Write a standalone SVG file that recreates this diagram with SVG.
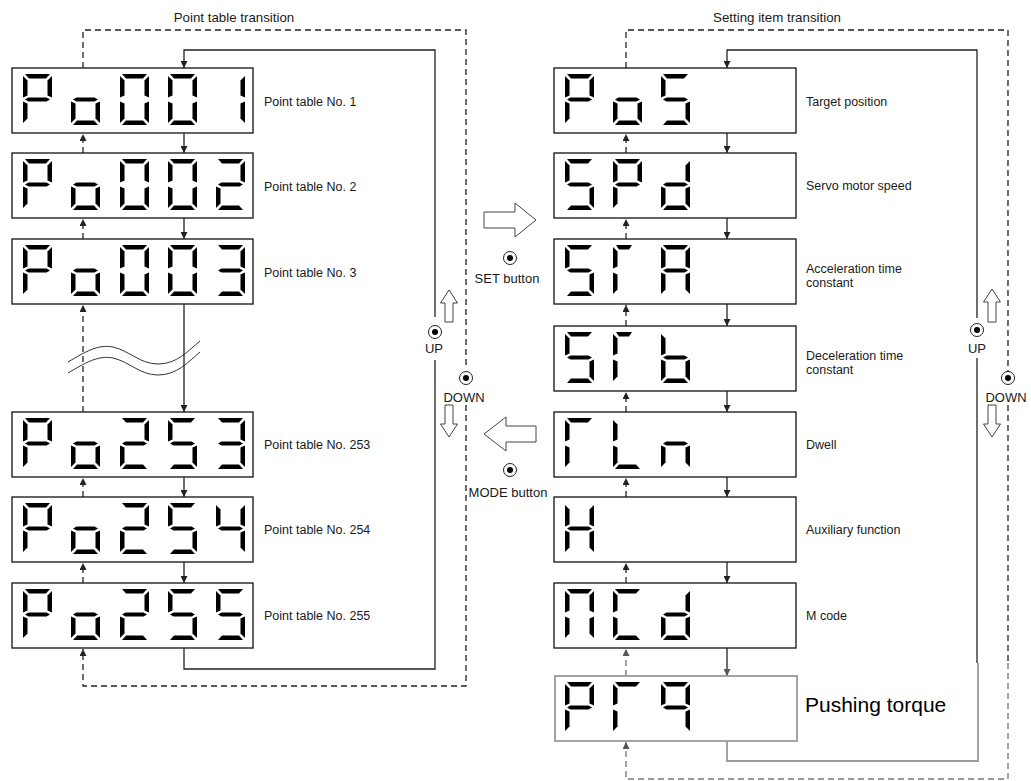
<svg xmlns="http://www.w3.org/2000/svg" xmlns:xlink="http://www.w3.org/1999/xlink" width="1031" height="781" viewBox="0 0 1031 781">
<style>
.box{fill:#fff;stroke:#222;stroke-width:1.4}
.boxg{fill:#fff;stroke:#999;stroke-width:1.8}
.seg{fill:#000}
.sol{fill:none;stroke:#222;stroke-width:1.3}
.dsh{fill:none;stroke:#222;stroke-width:1.3;stroke-dasharray:6 4}
.solg{fill:none;stroke:#999;stroke-width:1.8}
.dshg{fill:none;stroke:#999;stroke-width:1.8;stroke-dasharray:6 4}
.hol{fill:#fff;stroke:#444;stroke-width:1}
.wave{fill:none;stroke:#333;stroke-width:1}
.lbl{font-family:"Liberation Sans",Arial,sans-serif;font-size:12.5px;fill:#1a1a1a}
.ttl{font-family:"Liberation Sans",Arial,sans-serif;font-size:13.3px;fill:#1a1a1a;text-anchor:middle}
.btx{font-family:"Liberation Sans",Arial,sans-serif;font-size:13px;fill:#1a1a1a;text-anchor:middle}
.big{font-family:"Liberation Sans",Arial,sans-serif;font-size:21px;fill:#000}
.ring{fill:#fff;stroke:#222;stroke-width:1}
.dot{fill:#000}
</style>
<defs>
<marker id="ah" viewBox="0 0 8 8" refX="8" refY="4" markerWidth="7" markerHeight="7" orient="auto" markerUnits="userSpaceOnUse"><path d="M0,0 L8,4 L0,8 Z" fill="#222"/></marker>
<marker id="ahg" viewBox="0 0 8 8" refX="8" refY="4" markerWidth="7" markerHeight="7" orient="auto" markerUnits="userSpaceOnUse"><path d="M0,0 L8,4 L0,8 Z" fill="#555"/></marker>
<polygon id="sa" class="seg" points="2,0 27,0 23,4.5 6,4.5"/>
<polygon id="sas" class="seg" points="3,0 19,0 16,4.5 6,4.5"/>
<polygon id="sb" class="seg" points="29,2 29,23.5 24.5,21.5 24.5,6.5"/>
<polygon id="sc" class="seg" points="29,27.5 29,49 24.5,44.5 24.5,29.5"/>
<polygon id="sd" class="seg" points="6,46.5 23,46.5 27,51 2,51"/>
<polygon id="se" class="seg" points="0,27.5 4.5,29.5 4.5,44.5 0,49"/>
<polygon id="sf" class="seg" points="0,2 4.5,6.5 4.5,21.5 0,23.5"/>
<polygon id="sg" class="seg" points="2,25.5 5.5,23.5 23.5,23.5 27,25.5 23.5,27.5 5.5,27.5"/>
<g id="cP"><use href="#sa"/><use href="#sb"/><use href="#sf"/><use href="#sg"/><use href="#se"/></g>
<g id="co"><use href="#sg"/><use href="#sc"/><use href="#sd"/><use href="#se"/></g>
<g id="c0"><use href="#sa"/><use href="#sb"/><use href="#sc"/><use href="#sd"/><use href="#se"/><use href="#sf"/></g>
<g id="c1"><use href="#sb"/><use href="#sc"/></g>
<g id="c2"><use href="#sa"/><use href="#sb"/><use href="#sg"/><use href="#se"/><use href="#sd"/></g>
<g id="c3"><use href="#sa"/><use href="#sb"/><use href="#sg"/><use href="#sc"/><use href="#sd"/></g>
<g id="c4"><use href="#sf"/><use href="#sb"/><use href="#sg"/><use href="#sc"/></g>
<g id="c5"><use href="#sa"/><use href="#sf"/><use href="#sg"/><use href="#sc"/><use href="#sd"/></g>
<g id="cd"><use href="#sb"/><use href="#sc"/><use href="#sd"/><use href="#se"/><use href="#sg"/></g>
<g id="cr"><use href="#sa"/><use href="#sf"/><use href="#se"/></g>
<g id="crs"><use href="#sas"/><use href="#sf"/><use href="#se"/></g>
<g id="cA"><use href="#sa"/><use href="#sb"/><use href="#sc"/><use href="#se"/><use href="#sf"/><use href="#sg"/></g>
<g id="cb"><use href="#sf"/><use href="#se"/><use href="#sg"/><use href="#sc"/><use href="#sd"/></g>
<g id="cL"><use href="#sf"/><use href="#se"/><use href="#sd"/></g>
<g id="cn"><use href="#sg"/><use href="#se"/><use href="#sc"/></g>
<g id="cH"><use href="#sf"/><use href="#sb"/><use href="#sg"/><use href="#se"/><use href="#sc"/></g>
<g id="cM"><use href="#sa"/><use href="#sb"/><use href="#sc"/><use href="#se"/><use href="#sf"/></g>
<g id="cC"><use href="#sa"/><use href="#sf"/><use href="#se"/><use href="#sd"/></g>
<g id="cq"><use href="#sa"/><use href="#sb"/><use href="#sf"/><use href="#sg"/><use href="#sc"/></g>
</defs>

<rect width="1031" height="781" fill="#fff"/>

<text class="ttl" x="234" y="22">Point table transition</text>
<text class="ttl" x="777" y="22">Setting item transition</text>

<g id="connectors">
  <!-- left loops -->
  <path class="dsh" d="M83,68 V30 H466 V367"/>
  <path class="dsh" d="M466,405 V686 H83 V649" marker-end="url(#ah)"/>
  <path class="sol" d="M184,648 V669 H435 V360"/>
  <path class="sol" d="M435,317 V50 H184 V68" marker-end="url(#ah)"/>
  <!-- left between boxes -->
  <path class="dsh" d="M83,153 V134" marker-end="url(#ah)"/>
  <path class="sol" d="M184,133 V153" marker-end="url(#ah)"/>
  <path class="dsh" d="M83,239 V219" marker-end="url(#ah)"/>
  <path class="sol" d="M184,218 V239" marker-end="url(#ah)"/>
  <path class="dsh" d="M83,412 V305" marker-end="url(#ah)"/>
  <path class="sol" d="M184,304 V412" marker-end="url(#ah)"/>
  <path class="dsh" d="M83,497 V478" marker-end="url(#ah)"/>
  <path class="sol" d="M184,477 V497" marker-end="url(#ah)"/>
  <path class="dsh" d="M83,583 V563" marker-end="url(#ah)"/>
  <path class="sol" d="M184,562 V583" marker-end="url(#ah)"/>
  <!-- right loops -->
  <path class="dsh" d="M626,68 V30 H1008 V372"/>
  <path class="dsh" d="M1008,405 V663"/>
  <path class="dshg" d="M1008,663 V779 H626 V742" marker-end="url(#ahg)"/>
  <path class="sol" d="M977,318 V50 H727 V68" marker-end="url(#ah)"/>
  <path class="sol" d="M977,358 V663"/>
  <path class="solg" d="M727,741 V761 H978 V663"/>
  <!-- right between boxes -->
  <path class="dsh" d="M626,153 V134" marker-end="url(#ah)"/>
  <path class="sol" d="M727,133 V153" marker-end="url(#ah)"/>
  <path class="dsh" d="M626,239 V219" marker-end="url(#ah)"/>
  <path class="sol" d="M727,218 V239" marker-end="url(#ah)"/>
  <path class="dsh" d="M626,326 V305" marker-end="url(#ah)"/>
  <path class="sol" d="M727,304 V326" marker-end="url(#ah)"/>
  <path class="dsh" d="M626,412 V392" marker-end="url(#ah)"/>
  <path class="sol" d="M727,391 V412" marker-end="url(#ah)"/>
  <path class="dsh" d="M626,497 V478" marker-end="url(#ah)"/>
  <path class="sol" d="M727,477 V497" marker-end="url(#ah)"/>
  <path class="dsh" d="M626,583 V563" marker-end="url(#ah)"/>
  <path class="sol" d="M727,562 V583" marker-end="url(#ah)"/>
  <path class="dshg" d="M626,676 V649" marker-end="url(#ahg)"/>
  <path class="sol" d="M727,648 V676" marker-end="url(#ahg)"/>
</g>

<g id="break-mark">
  <path class="wave" d="M68,362 C85,352 98,344 113,347 C130,351 140,364 158,364 C177,364 188,351 200,341"/>
  <path class="wave" d="M68,373 C85,363 98,355 113,358 C130,362 140,375 158,375 C177,375 188,362 200,352"/>
</g>

<!-- left column -->
<g id="node-po001">
  <rect class="box" x="12" y="68" width="241" height="65"/>
  <use href="#cP" x="23" y="74"/><use href="#co" x="71" y="74"/><use href="#c0" x="120" y="74"/><use href="#c0" x="168" y="74"/><use href="#c1" x="216" y="74"/>
  <text class="lbl" x="264" y="106">Point table No. 1</text>
</g>
<g id="node-po002">
  <rect class="box" x="12" y="153" width="241" height="65"/>
  <use href="#cP" x="23" y="159"/><use href="#co" x="71" y="159"/><use href="#c0" x="120" y="159"/><use href="#c0" x="168" y="159"/><use href="#c2" x="216" y="159"/>
  <text class="lbl" x="264" y="191">Point table No. 2</text>
</g>
<g id="node-po003">
  <rect class="box" x="12" y="239" width="241" height="65"/>
  <use href="#cP" x="23" y="245"/><use href="#co" x="71" y="245"/><use href="#c0" x="120" y="245"/><use href="#c0" x="168" y="245"/><use href="#c3" x="216" y="245"/>
  <text class="lbl" x="264" y="277">Point table No. 3</text>
</g>
<g id="node-po253">
  <rect class="box" x="12" y="412" width="241" height="65"/>
  <use href="#cP" x="23" y="418"/><use href="#co" x="71" y="418"/><use href="#c2" x="120" y="418"/><use href="#c5" x="168" y="418"/><use href="#c3" x="216" y="418"/>
  <text class="lbl" x="264" y="449">Point table No. 253</text>
</g>
<g id="node-po254">
  <rect class="box" x="12" y="497" width="241" height="65"/>
  <use href="#cP" x="23" y="503"/><use href="#co" x="71" y="503"/><use href="#c2" x="120" y="503"/><use href="#c5" x="168" y="503"/><use href="#c4" x="216" y="503"/>
  <text class="lbl" x="264" y="534">Point table No. 254</text>
</g>
<g id="node-po255">
  <rect class="box" x="12" y="583" width="241" height="65"/>
  <use href="#cP" x="23" y="589"/><use href="#co" x="71" y="589"/><use href="#c2" x="120" y="589"/><use href="#c5" x="168" y="589"/><use href="#c5" x="216" y="589"/>
  <text class="lbl" x="264" y="620">Point table No. 255</text>
</g>

<!-- right column -->
<g id="node-pos">
  <rect class="box" x="554" y="68" width="242" height="65"/>
  <use href="#cP" x="565" y="74"/><use href="#co" x="613" y="74"/><use href="#c5" x="661" y="74"/>
  <text class="lbl" x="806" y="106">Target position</text>
</g>
<g id="node-spd">
  <rect class="box" x="554" y="153" width="242" height="65"/>
  <use href="#c5" x="565" y="159"/><use href="#cP" x="613" y="159"/><use href="#cd" x="661" y="159"/>
  <text class="lbl" x="806" y="190">Servo motor speed</text>
</g>
<g id="node-sta">
  <rect class="box" x="554" y="239" width="242" height="65"/>
  <use href="#c5" x="565" y="245"/><use href="#crs" x="613" y="245"/><use href="#cA" x="661" y="245"/>
  <text class="lbl" x="806" y="273">Acceleration time</text>
  <text class="lbl" x="806" y="287">constant</text>
</g>
<g id="node-stb">
  <rect class="box" x="554" y="326" width="242" height="65"/>
  <use href="#c5" x="565" y="332"/><use href="#crs" x="613" y="332"/><use href="#cb" x="661" y="332"/>
  <text class="lbl" x="806" y="360">Deceleration time</text>
  <text class="lbl" x="806" y="374">constant</text>
</g>
<g id="node-dwell">
  <rect class="box" x="554" y="412" width="242" height="65"/>
  <use href="#cr" x="565" y="418"/><use href="#cL" x="613" y="418"/><use href="#cn" x="661" y="418"/>
  <text class="lbl" x="806" y="449">Dwell</text>
</g>
<g id="node-aux">
  <rect class="box" x="554" y="497" width="242" height="65"/>
  <use href="#cH" x="565" y="503"/>
  <text class="lbl" x="806" y="534">Auxiliary function</text>
</g>
<g id="node-mcd">
  <rect class="box" x="554" y="583" width="242" height="65"/>
  <use href="#cM" x="565" y="589"/><use href="#cC" x="613" y="589"/><use href="#cd" x="661" y="589"/>
  <text class="lbl" x="806" y="620">M code</text>
</g>
<g id="node-prq">
  <rect class="boxg" x="555" y="676" width="242" height="65"/>
  <use href="#cP" x="565" y="682"/><use href="#cr" x="613" y="682"/><use href="#cq" x="661" y="682"/>
  <text class="big" x="805" y="712">Pushing torque</text>
</g>

<!-- buttons and hollow arrows -->
<g id="set-button">
  <path class="hol" d="M484,212 H515 V203 L536,220 L515,237 V228 H484 Z"/>
  <circle class="ring" cx="510" cy="258" r="6.5"/><circle class="dot" cx="510" cy="258" r="3"/>
  <text class="btx" x="507" y="283">SET button</text>
</g>
<g id="mode-button">
  <path class="hol" d="M536,426 H506 V417 L484,434 L506,451 V442 H536 Z"/>
  <circle class="ring" cx="510" cy="470" r="6.5"/><circle class="dot" cx="510" cy="470" r="3"/>
  <text class="btx" x="508" y="497">MODE button</text>
</g>
<g id="left-up">
  <path class="hol" d="M449,290 L457.5,303 H453 V322 H445 V303 H440.5 Z"/>
  <circle class="ring" cx="435" cy="332" r="6.5"/><circle class="dot" cx="435" cy="332" r="3"/>
  <text class="btx" x="434" y="353">UP</text>
</g>
<g id="left-down">
  <path class="hol" d="M445,405 H453 V424 H457.5 L449,437 L440.5,424 H445 Z"/>
  <circle class="ring" cx="466" cy="378" r="6.5"/><circle class="dot" cx="466" cy="378" r="3"/>
  <text class="btx" x="464" y="402">DOWN</text>
</g>
<g id="right-up">
  <path class="hol" d="M992,289 L1000.5,302 H996 V322 H988 V302 H983.5 Z"/>
  <circle class="ring" cx="977" cy="330" r="6.5"/><circle class="dot" cx="977" cy="330" r="3"/>
  <text class="btx" x="977" y="353">UP</text>
</g>
<g id="right-down">
  <path class="hol" d="M988,405 H996 V424 H1000.5 L992,437 L983.5,424 H988 Z"/>
  <circle class="ring" cx="1008" cy="378" r="6.5"/><circle class="dot" cx="1008" cy="378" r="3"/>
  <text class="btx" x="1006" y="402">DOWN</text>
</g>
</svg>
